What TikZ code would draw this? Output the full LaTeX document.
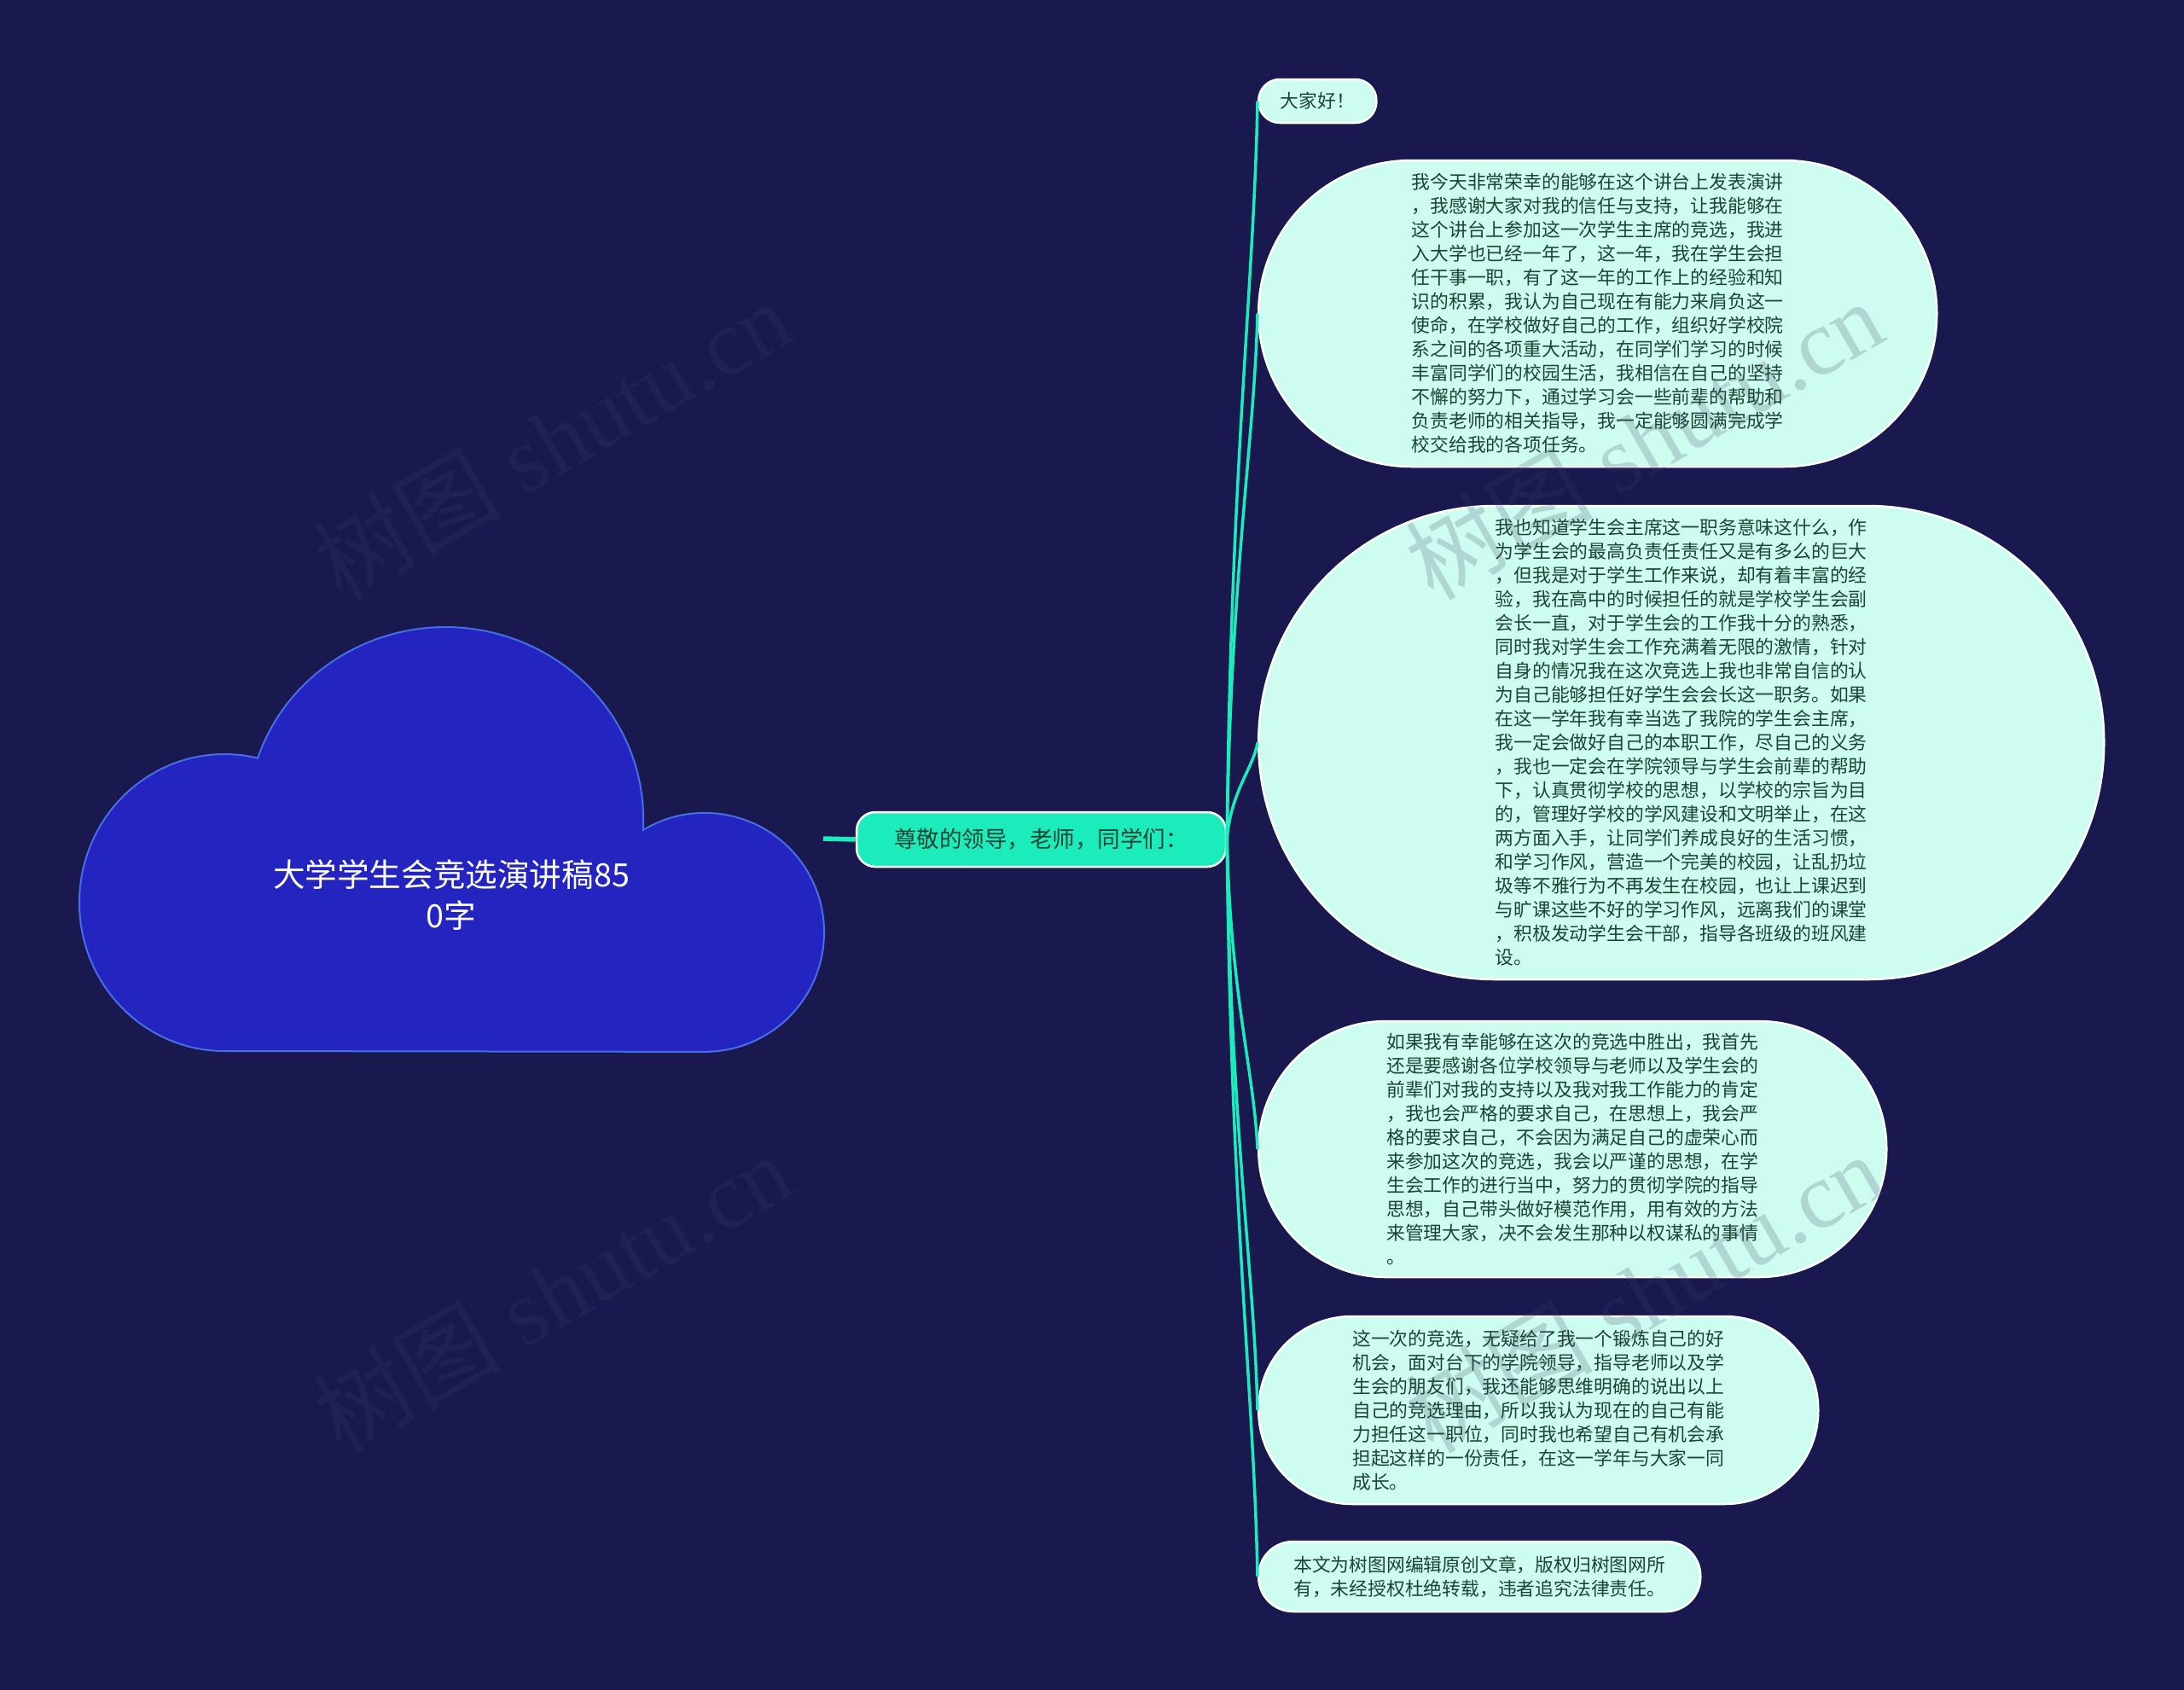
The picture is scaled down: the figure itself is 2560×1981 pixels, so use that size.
\documentclass[tikz,border=0pt]{standalone}
\usepackage{fontspec}
\newfontfamily\cjk{Noto Sans CJK SC}
\newfontfamily\wmserif{Liberation Serif}
\definecolor{bgnavy}{RGB}{25,25,80}
\definecolor{cloudfill}{RGB}{36,36,192}
\definecolor{cloudedge}{RGB}{70,110,230}
\definecolor{aqua}{RGB}{28,236,188}
\definecolor{leaffill}{RGB}{205,252,240}
\definecolor{leaftext}{RGB}{28,68,52}
\definecolor{wmgray}{RGB}{60,66,95}
\begin{document}
\begin{tikzpicture}[x=1pt,y=-1pt,
  leaf/.style={rectangle, fill=leaffill, draw=white, line width=2.5pt,
    minimum height=#1, inner xsep=#1/2, inner ysep=0pt,
    rounded corners=#1/2-0.6pt, text=leaftext, anchor=west,
    font=\cjk\fontsize{21.8}{28}\selectfont},
  para/.style={leaf=#1, text width=436pt, align=left},
  branch/.style={draw=aqua, line width=3.5pt},
  wm/.style={text=wmgray, opacity=0.2, rotate=30,
    font=\wmserif\fontsize{110}{110}\selectfont, inner sep=0pt}
]
% background
\fill[bgnavy] (0,0) rectangle (2560,1981);
\useasboundingbox (0,0) rectangle (2560,1981);

% cloud
\draw[fill=cloudfill, draw=cloudedge, line width=2pt]
  (263,1232) arc[start angle=90, end angle=283.3, x radius=170, y radius=174]
  arc[start angle=198.5, end angle=363.3, x radius=232, y radius=225]
  arc[start angle=238.9, end angle=450, radius=140] -- cycle;
\node[text=white, align=center, font=\cjk\fontsize{37.6}{48}\selectfont]
  (title) at (529,1049) {大学学生会竞选演讲稿85\\0字};
\coordinate (cloudport) at (965,983);

% main node
\node[rectangle, rounded corners=22pt, fill=aqua, draw=white, line width=2.5pt,
  minimum width=433pt, minimum height=64pt, inner sep=0pt, text=leaftext,
  font=\cjk\fontsize{26.5}{30}\selectfont] (main) at (1220.5,984)
  {尊敬的领导，老师，同学们：};
\draw[draw=aqua, line width=5.5pt] (cloudport) -- (main.west);

% leaves
\node[leaf=51pt] (hello) at (1474,118.5) {大家好！};
\node[para=359pt] (p1) at (1474,367.5) {我今天非常荣幸的能够在这个讲台上发表演讲\\，我感谢大家对我的信任与支持，让我能够在\\这个讲台上参加这一次学生主席的竞选，我进\\入大学也已经一年了，这一年，我在学生会担\\任干事一职，有了这一年的工作上的经验和知\\识的积累，我认为自己现在有能力来肩负这一\\使命，在学校做好自己的工作，组织好学校院\\系之间的各项重大活动，在同学们学习的时候\\丰富同学们的校园生活，我相信在自己的坚持\\不懈的努力下，通过学习会一些前辈的帮助和\\负责老师的相关指导，我一定能够圆满完成学\\校交给我的各项任务。};
\node[para=555pt] (p2) at (1474,870.5) {我也知道学生会主席这一职务意味这什么，作\\为学生会的最高负责任责任又是有多么的巨大\\，但我是对于学生工作来说，却有着丰富的经\\验，我在高中的时候担任的就是学校学生会副\\会长一直，对于学生会的工作我十分的熟悉，\\同时我对学生会工作充满着无限的激情，针对\\自身的情况我在这次竞选上我也非常自信的认\\为自己能够担任好学生会会长这一职务。如果\\在这一学年我有幸当选了我院的学生会主席，\\我一定会做好自己的本职工作，尽自己的义务\\，我也一定会在学院领导与学生会前辈的帮助\\下，认真贯彻学校的思想，以学校的宗旨为目\\的，管理好学校的学风建设和文明举止，在这\\两方面入手，让同学们养成良好的生活习惯，\\和学习作风，营造一个完美的校园，让乱扔垃\\圾等不雅行为不再发生在校园，也让上课迟到\\与旷课这些不好的学习作风，远离我们的课堂\\，积极发动学生会干部，指导各班级的班风建\\设。};
\node[para=300pt] (p3) at (1474,1347) {如果我有幸能够在这次的竞选中胜出，我首先\\还是要感谢各位学校领导与老师以及学生会的\\前辈们对我的支持以及我对我工作能力的肯定\\，我也会严格的要求自己，在思想上，我会严\\格的要求自己，不会因为满足自己的虚荣心而\\来参加这次的竞选，我会以严谨的思想，在学\\生会工作的进行当中，努力的贯彻学院的指导\\思想，自己带头做好模范作用，用有效的方法\\来管理大家，决不会发生那种以权谋私的事情\\。};
\node[para=220pt] (p4) at (1474,1653) {这一次的竞选，无疑给了我一个锻炼自己的好\\机会，面对台下的学院领导，指导老师以及学\\生会的朋友们，我还能够思维明确的说出以上\\自己的竞选理由，所以我认为现在的自己有能\\力担任这一职位，同时我也希望自己有机会承\\担起这样的一份责任，在这一学年与大家一同\\成长。};
\node[para=82pt] (p5) at (1474,1848) {本文为树图网编辑原创文章，版权归树图网所\\有，未经授权杜绝转载，违者追究法律责任。};

% branches
\draw[branch] (main.east) .. controls +(4,-432) and +(-4,216) .. (hello.west);
\draw[branch] (main.east) .. controls +(4,-308) and +(-4,154) .. (p1.west);
\draw[branch] (main.east) .. controls +(4,-56) and +(-4,28) .. (p2.west);
\draw[branch] (main.east) .. controls +(4,182) and +(-4,-91) .. (p3.west);
\draw[branch] (main.east) .. controls +(4,335) and +(-4,-167) .. (p4.west);
\draw[branch] (main.east) .. controls +(4,432) and +(-4,-216) .. (p5.west);

% watermarks
\node[wm] (wm1) at (647,515) {{\cjk 树图} shutu.cn};
\node[wm] (wm2) at (1927,515) {{\cjk 树图} shutu.cn};
\node[wm] (wm3) at (647,1515) {{\cjk 树图} shutu.cn};
\node[wm] (wm4) at (1927,1515) {{\cjk 树图} shutu.cn};
\end{tikzpicture}
\end{document}
